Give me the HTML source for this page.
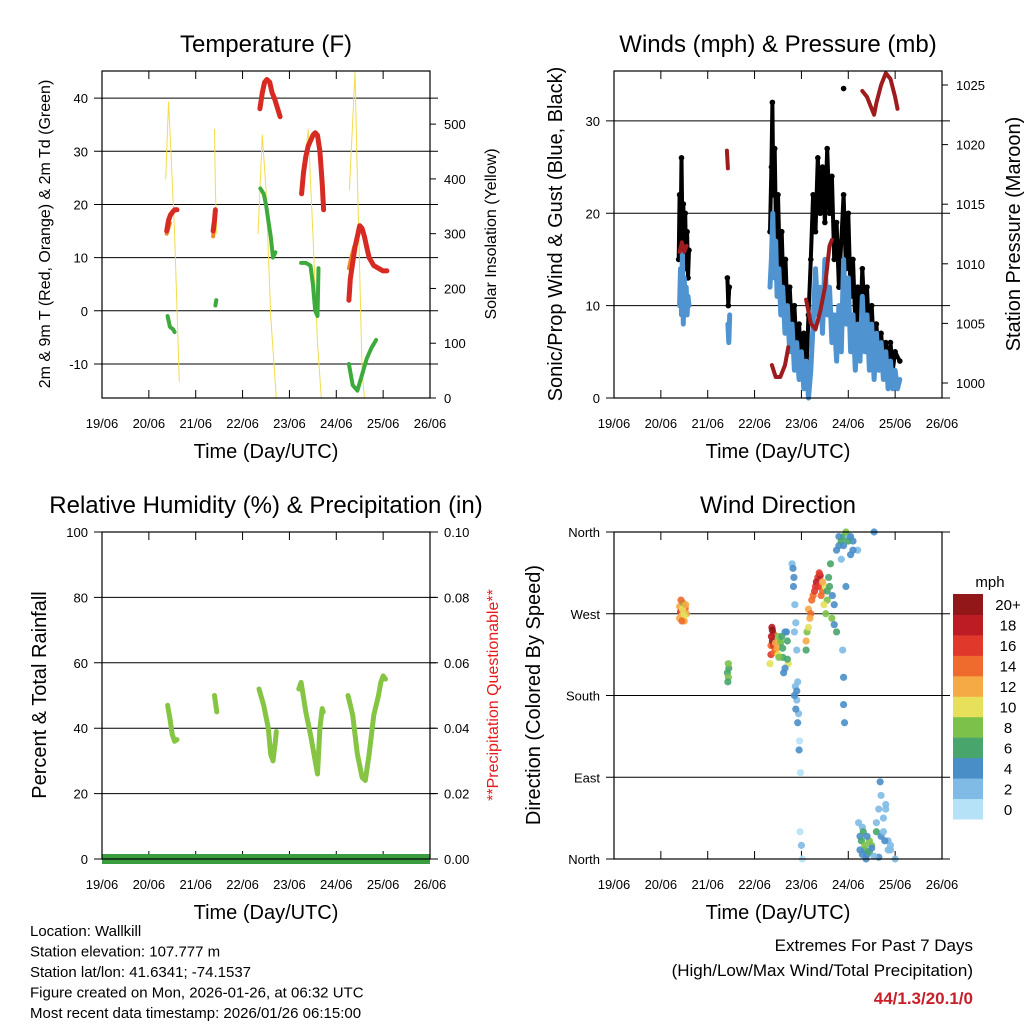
<!DOCTYPE html>
<html><head><meta charset="utf-8"><style>
body{margin:0;background:#fff}
svg{display:block;font-family:"Liberation Sans",sans-serif}
</style></head><body>
<svg id="c" width="1024" height="1024" viewBox="0 0 1024 1024"></svg>
<script>
// ---------- DATA (t = days since 19/06 00 UTC) ----------
const dayLabels=["19/06","20/06","21/06","22/06","23/06","24/06","25/06","26/06"];
const tempTicks=[-10,0,10,20,30,40];
const solarTicks=[0,100,200,300,400,500];
const windTicks=[0,10,20,30];
const presTicks=[1000,1005,1010,1015,1020,1025];
const rhTicks=[0,20,40,60,80,100];
const rainTicks=["0.00","0.02","0.04","0.06","0.08","0.10"];
const dirLabels=["North","East","South","West","North"];
const speedLabels=["0","2","4","6","8","10","12","14","16","18","20+"];
const speedColors=["#b5e2f7","#7fbbe4","#4a8ec8","#48a56c","#7cc24a","#e6e05a","#f6aa46","#ef6a2d","#e0392c","#bd1c25","#911719"];

const tempRed=[[[1.38,15],[1.42,17],[1.46,18],[1.5,18.5],[1.55,19],[1.6,19]],
[[2.37,15],[2.4,17],[2.42,19]],
[[3.37,38],[3.42,41],[3.47,43],[3.52,43.5],[3.58,43],[3.63,41],[3.68,40],[3.75,38],[3.8,36.5]],
[[4.26,22],[4.3,26],[4.35,29],[4.4,31],[4.45,32],[4.5,33],[4.55,33.5],[4.6,33],[4.65,30],[4.7,24],[4.73,19]],
[[5.27,2],[5.3,6],[5.35,9],[5.4,12],[5.45,14],[5.5,16],[5.55,15.5],[5.6,14],[5.65,12],[5.7,10],[5.8,8.5],[5.9,8],[6.0,7.5],[6.08,7.5]]];
const tempOrange=[[[1.38,14.5],[1.45,16.5]],[[2.37,14],[2.4,16]],[[5.27,8],[5.32,10],[5.38,12]]];
const dewGreen=[[[1.4,-1],[1.45,-3],[1.52,-3.5],[1.55,-4]],
[[2.42,1],[2.44,2]],
[[3.38,23],[3.45,22],[3.5,20],[3.55,17],[3.6,14],[3.65,10],[3.7,11]],
[[4.25,9],[4.35,9],[4.45,8.5],[4.5,5],[4.55,0],[4.6,-1],[4.62,8]],
[[5.27,-10],[5.35,-14],[5.45,-15],[5.55,-12],[5.65,-9],[5.75,-7],[5.85,-5.5]]];
const solar=[[[1.36,400],[1.42,540],[1.47,450],[1.55,300],[1.65,30]],
[[2.4,490],[2.42,380],[2.45,300]],
[[3.33,300],[3.42,480],[3.5,380],[3.6,150],[3.72,0]],
[[4.27,380],[4.4,490],[4.5,300],[4.6,100],[4.68,0]],
[[5.28,380],[5.4,595],[5.45,400],[5.55,50],[5.6,0]]];

const windBlue=[[[1.40,10],[1.42,14],[1.44,9],[1.46,16],[1.48,8],[1.50,13],[1.52,10],[1.54,12],[1.56,9],[1.58,11],[1.60,10]],
[[2.43,8],[2.45,6],[2.47,9]],
[[3.33,12],[3.36,15],[3.39,20],[3.42,13],[3.45,17],[3.48,11],[3.52,14],[3.56,9],[3.6,12],[3.65,7],[3.7,10],[3.75,5],[3.8,8],[3.85,3],[3.9,6],[3.95,2],[4.0,5],[4.05,1],[4.1,4],[4.15,0],[4.2,3],[4.25,8],[4.3,14],[4.35,9],[4.4,12],[4.45,7],[4.5,15],[4.55,9],[4.6,12],[4.65,6],[4.7,9],[4.75,4],[4.8,10],[4.85,5],[4.9,15],[4.95,8],[5.0,13],[5.05,5],[5.1,9],[5.15,3],[5.2,8],[5.25,4],[5.3,11],[5.35,5],[5.4,9],[5.45,3],[5.5,8],[5.55,2],[5.6,7],[5.65,3],[5.7,6],[5.75,2],[5.8,5],[5.85,1],[5.9,4],[5.95,1],[6.0,3],[6.05,1],[6.1,2]]];
const windGust=[[[1.38,15],[1.40,22],[1.42,17],[1.44,26],[1.46,18],[1.48,21],[1.50,16],[1.52,20],[1.54,14],[1.56,18],[1.58,13],[1.60,16]],
[[2.42,13],[2.44,10],[2.46,12]],
[[3.33,18],[3.36,25],[3.38,32],[3.40,22],[3.43,27],[3.46,17],[3.5,22],[3.54,14],[3.58,18],[3.62,11],[3.66,15],[3.7,9],[3.75,12],[3.8,7],[3.85,10],[3.9,5],[3.95,8],[4.0,3],[4.05,7],[4.1,2],[4.15,9],[4.2,15],[4.25,22],[4.3,18],[4.35,26],[4.4,20],[4.45,25],[4.5,19],[4.55,27],[4.6,20],[4.65,24],[4.7,15],[4.75,19],[4.8,12],[4.85,17],[4.9,22],[4.95,14],[5.0,20],[5.05,11],[5.1,15],[5.15,8],[5.2,12],[5.25,7],[5.3,14],[5.35,9],[5.4,12],[5.45,6],[5.5,10],[5.55,5],[5.6,8],[5.65,4],[5.7,7],[5.75,4],[5.8,6],[5.85,3],[5.9,6],[5.95,3],[6.0,5],[6.1,4]],
[[4.9,33.5]]];
const pressure=[[[1.4,1011],[1.45,1011.8],[1.5,1011],[1.55,1011.5]],
[[2.41,1019.5],[2.43,1018]],
[[3.37,1001.5],[3.45,1000.5],[3.55,1000.5],[3.65,1001.5],[3.72,1003]],
[[4.1,1007],[4.2,1005],[4.3,1004.5],[4.4,1006],[4.5,1008],[4.6,1011.5],[4.65,1012]],
[[5.3,1024.5],[5.4,1024],[5.5,1023],[5.55,1022.5],[5.6,1023.5],[5.7,1025],[5.8,1026],[5.9,1025.5],[6.0,1024],[6.05,1023]]];

const rh=[[[1.4,47],[1.45,43],[1.5,38],[1.55,36],[1.6,36.5]],
[[2.4,50],[2.45,45]],
[[3.35,52],[3.45,47],[3.55,40],[3.6,32],[3.65,30],[3.7,36],[3.72,39]],
[[4.2,52],[4.25,54],[4.35,45],[4.45,38],[4.55,30],[4.6,26],[4.65,40],[4.7,46],[4.72,45]],
[[5.25,50],[5.35,44],[5.45,32],[5.55,25],[5.62,24],[5.7,32],[5.8,44],[5.9,50],[5.95,54],[6.0,56],[6.05,55]]];
const rain=[[0,0],[7,0]];

const dirT=[1.4,1.42,1.45,1.47,1.5,1.52,1.55,2.42,2.44,2.45,3.33,3.35,3.37,3.38,3.4,3.45,3.5,3.55,3.6,3.65,3.7,3.72,3.8,3.83,3.85,3.87,3.9,3.92,3.95,3.97,4.0,4.02,4.1,4.12,4.15,4.2,4.25,4.3,4.35,4.4,4.45,4.5,4.55,4.6,4.65,4.7,4.75,4.8,4.85,4.9,4.95,5.0,5.05,5.1,5.2,5.25,5.3,5.35,5.4,5.45,5.5,5.55,5.6,5.65,5.7,5.75,5.8,5.85,5.9,6.0,
1.4,1.43,1.46,1.5,1.53,1.45,2.43,2.44,
3.35,3.36,3.38,3.4,3.42,3.45,3.48,3.5,3.52,3.55,3.58,3.6,3.62,3.65,3.68,3.7,
3.82,3.84,3.86,3.88,3.9,3.92,3.94,3.96,3.98,3.85,3.88,3.9,
4.1,4.15,4.18,4.22,4.28,4.32,4.36,4.38,4.42,4.45,4.48,4.52,4.55,4.58,4.62,4.66,4.7,
4.75,4.8,4.85,4.9,4.95,5.0,5.05,5.1,4.9,4.92,4.9,4.88,
5.22,5.25,5.28,5.3,5.32,5.35,5.38,5.4,5.45,5.5,5.55,5.6,5.65,5.7,5.75,5.78,5.8,5.85,5.9,5.68];
const dirV=[278,272,268,282,262,276,270,205,200,210,215,235,255,240,248,230,245,238,222,250,240,215,325,300,250,190,175,150,120,30,15,0,230,250,275,270,290,300,310,312,295,300,285,300,265,280,250,345,330,355,300,355,335,350,340,25,35,10,5,20,15,360,30,2,25,45,55,20,10,0,
265,285,275,268,280,262,195,215,
225,245,252,235,228,238,232,225,222,240,245,232,205,210,250,220,
320,310,280,260,230,195,160,130,95,180,165,185,
240,255,265,285,295,305,300,315,290,305,280,270,295,310,325,290,258,
340,355,350,345,360,350,355,340,170,150,200,230,
40,10,20,5,30,15,0,25,8,12,3,40,55,70,30,20,60,10,15,85];
const dirS=[12,16,10,8,12,13,11,6,7,6,10,14,18,20,16,12,8,5,6,4,6,9,2,3,2,1,2,4,3,0,1,0,6,8,12,14,14,16,16,18,14,10,8,6,7,4,5,3,2,6,4,2,3,4,2,3,2,6,4,7,8,3,5,4,3,2,2,1,2,1,
12,14,10,9,11,13,6,7,
16,18,20,16,14,12,11,10,8,7,6,5,4,4,3,6,
3,4,2,2,1,2,1,0,0,4,4,3,
12,10,11,14,16,17,16,15,13,12,9,8,6,5,6,4,4,
4,3,5,4,7,6,3,4,4,3,4,2,
2,4,6,3,5,7,4,3,5,4,2,2,2,2,2,3,2,2,1,3];

// ---------- helpers ----------
const S=document.getElementById('c');
const NS='http://www.w3.org/2000/svg';
function mk(tag,attrs,parent,txt){const e=document.createElementNS(NS,tag);for(const k in attrs)e.setAttribute(k,attrs[k]);if(txt!==undefined)e.textContent=txt;(parent||S).appendChild(e);return e;}
function lin(d0,d1,r0,r1){return v=>r0+(v-d0)*(r1-r0)/(d1-d0);}

function panel(id,x0,y0,title,xTitle){
  const g=mk('g',{});
  
  
  const x1=x0+328,y1=y0+327;
  const X=lin(0,7,x0,x1);
  const t=mk('text',{x:(x0+x1)/2,y:y0-19,'text-anchor':'middle','font-size':24},g,title);
  
  const xt=mk('text',{x:(x0+x1)/2,y:y1+60,'text-anchor':'middle','font-size':20},g,xTitle);
  
  dayLabels.forEach((d,i)=>{
    const lx=X(i);
    mk('line',{x1:lx,x2:lx,y1:y1,y2:y1-8,stroke:'#000'},g);
    mk('line',{x1:lx,x2:lx,y1:y0,y2:y0+8,stroke:'#000'},g);
    const l=mk('text',{x:lx,y:y1+30,'text-anchor':'middle','font-size':13},g,d);
    
  });
  return {g,X,x0,x1,y0,y1};
}
function leftTicks(p,ticks,Y,labels,grid){
  ticks.forEach((v,i)=>{
    const y=Y(v);
    if(grid) mk('line',{x1:p.x0-8,x2:p.x1+8,y1:y,y2:y,stroke:'#000','stroke-width':1},p.g);
    const l=mk('text',{x:p.x0-14,y:y+5,'text-anchor':'end','font-size':13},p.g,labels?labels[i]:v);
    
  });
}
function rightTicks(p,ticks,Y,labels){
  ticks.forEach((v,i)=>{
    const y=Y(v);
    mk('line',{x1:p.x1,x2:p.x1+6,y1:y,y2:y,stroke:'#000'},p.g);
    const l=mk('text',{x:p.x1+14,y:y+5,'text-anchor':'start','font-size':13},p.g,labels?labels[i]:v);
    
  });
}
function vtitle(p,x,y,txt,size,color,name){
  const e=mk('text',{x:x,y:y,'text-anchor':'middle','font-size':size,fill:color||'#000',transform:`rotate(-90 ${x} ${y})`},p.g,txt);
  
}
function frame(p){mk('rect',{x:p.x0,y:p.y0,width:p.x1-p.x0,height:p.y1-p.y0,fill:'none',stroke:'#000','stroke-width':1.2},p.g);}
function lines(p,segs,Y,color,w,name){
  segs.forEach(s=>{
    const e=mk('polyline',{points:s.map(q=>p.X(q[0]).toFixed(1)+','+Y(q[1]).toFixed(1)).join(' '),fill:'none',stroke:color,'stroke-width':w,'stroke-linecap':'round','stroke-linejoin':'round'},p.g);
    
  });
}
function dots(p,segs,Y,color,r,name){
  segs.forEach(s=>s.forEach(q=>{
    const e=mk('circle',{cx:p.X(q[0]),cy:Y(q[1]),r:r,fill:color},p.g);
    
  }));
}

// ---------- Panel 1: Temperature ----------
{
const p=panel('temperature-panel',102,71,'Temperature (F)','Time (Day/UTC)');
const Y=lin(-16.4,45.1,p.y1,p.y0);
const YS=lin(0,597,p.y1,p.y0);
leftTicks(p,tempTicks,Y,null,true);
rightTicks(p,solarTicks,YS);
lines(p,solar,YS,'#f3dc4a',1,'solar-insolation-line');
lines(p,tempOrange,Y,'#f08a24',4,'temp-9m-line');
lines(p,tempRed,Y,'#d62a22',5,'temp-2m-line');
lines(p,dewGreen,Y,'#3daa3c',4,'dewpoint-line');
frame(p);
vtitle(p,50,234,'2m & 9m T (Red, Orange) & 2m Td (Green)',16,'#000','left-axis-title');
vtitle(p,496,234,'Solar Insolation (Yellow)',16,'#000','right-axis-title');
}
// ---------- Panel 2: Winds ----------
{
const p=panel('winds-panel',614,71,'Winds (mph) & Pressure (mb)','Time (Day/UTC)');
const Y=lin(0,35.4,p.y1,p.y0);
const YP=lin(1000,1025,383,85);
leftTicks(p,windTicks,Y,null,true);
rightTicks(p,presTicks,YP);
lines(p,windGust,Y,'#000',4,'gust-line');
dots(p,windGust,Y,'#000',2.8,'gust-point');
lines(p,windBlue,Y,'#4f94d0',5,'wind-line');
lines(p,pressure,YP,'#9e1b1e',4,'pressure-line');
frame(p);
vtitle(p,562,234,'Sonic/Prop Wind & Gust (Blue, Black)',20,'#000','left-axis-title');
vtitle(p,1020,234,'Station Pressure (Maroon)',20,'#000','right-axis-title');
}
// ---------- Panel 3: RH ----------
{
const p=panel('humidity-panel',102,532,'Relative Humidity (%) & Precipitation (in)','Time (Day/UTC)');
const Y=lin(0,100,p.y1,p.y0);
const YR=lin(0,0.1,p.y1,p.y0);
leftTicks(p,rhTicks,Y,null,true);
rightTicks(p,rhTicks,Y,rainTicks);
lines(p,rh,Y,'#86c444',5,'humidity-line');
const rl=mk('rect',{x:p.X(rain[0][0]),y:YR(rain[0][1])-5,width:p.X(rain[1][0])-p.X(rain[0][0]),height:10,fill:'#3a9e40'},p.g);

frame(p);
vtitle(p,46,695,'Percent & Total Rainfall',20,'#000','left-axis-title');
vtitle(p,498,695,'**Precipitation Questionable**',16,'#e8191b','right-axis-title');
}
// ---------- Panel 4: Wind direction ----------
{
const p=panel('wind-direction-panel',614,532,'Wind Direction','Time (Day/UTC)');
const Y=lin(0,360,p.y1,p.y0);
leftTicks(p,[0,90,180,270,360],Y,dirLabels,true);
dirT.forEach((t,i)=>{
  const ci=Math.min(10,Math.round(dirS[i]/2));
  const e=mk('circle',{cx:p.X(t),cy:Y(dirV[i]),r:3.6,fill:speedColors[ci],'fill-opacity':0.9},p.g);
  
  
});
frame(p);
vtitle(p,540,695,'Direction (Colored By Speed)',20,'#000','left-axis-title');
const cb=mk('g',{},S);

const bh=225/11;
mk('text',{x:990,y:587,'text-anchor':'middle','font-size':15},cb,'mph');
speedColors.forEach((c,i)=>{
  const y=819-(i+1)*bh;
  mk('rect',{x:953,y:y,width:30,height:bh+0.5,fill:c},cb);
  mk('text',{x:1008,y:y+bh/2+6,'text-anchor':'middle','font-size':15},cb,speedLabels[i]);
});
}
// ---------- Footer ----------
const info=["Location: Wallkill","Station elevation: 107.777 m","Station lat/lon: 41.6341; -74.1537","Figure created on Mon, 2026-01-26, at 06:32 UTC","Most recent data timestamp: 2026/01/26 06:15:00"];
info.forEach((s,i)=>{const e=mk('text',{x:30,y:936+i*20.5,'font-size':15},S,s);});
let e=mk('text',{x:973,y:951,'text-anchor':'end','font-size':17},S,'Extremes For Past 7 Days');
e=mk('text',{x:973,y:976,'text-anchor':'end','font-size':17},S,'(High/Low/Max Wind/Total Precipitation)');
e=mk('text',{x:973,y:1004,'text-anchor':'end','font-size':17,'font-weight':'bold',fill:'#c8202a'},S,'44/1.3/20.1/0');
</script>
</body></html>
